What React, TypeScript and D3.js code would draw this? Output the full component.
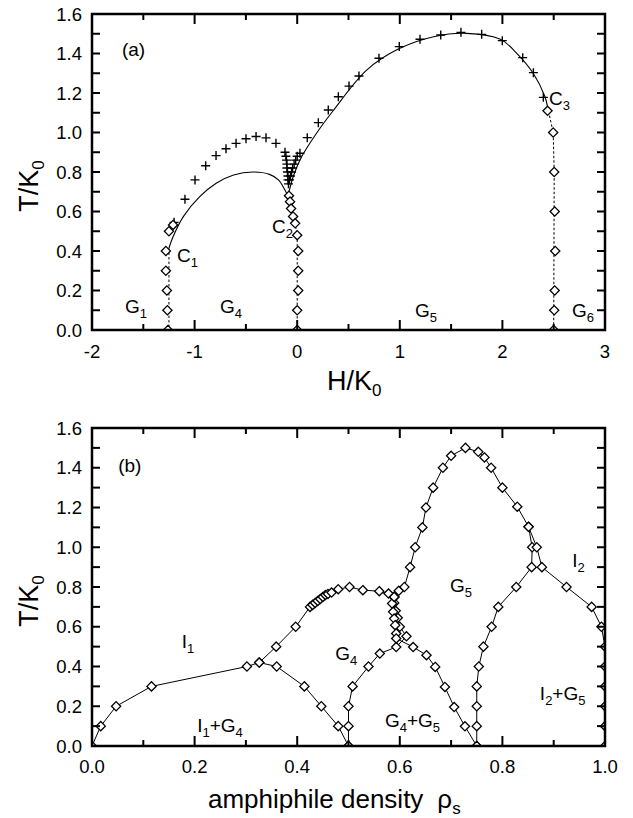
import React from 'react';
import * as d3 from 'd3';

// ---------- panel (a) data ----------
const hTickLabels = [-2, -1, 0, 1, 2, 3];
const tTickLabels = [0, 0.2, 0.4, 0.6, 0.8, 1.0, 1.2, 1.4, 1.6];

// solid transition lines
const leftArcH = [-1.25, -1.21, -1.11, -0.95, -0.79, -0.62, -0.43, -0.27, -0.18, -0.12, -0.09];
const leftArcT = [0.415, 0.472, 0.574, 0.675, 0.743, 0.785, 0.8, 0.788, 0.759, 0.709, 0.68];
const rightArcH = [-0.09, -0.03, 0.043, 0.18, 0.35, 0.677, 1.0, 1.33, 1.65, 1.98, 2.14, 2.3, 2.415, 2.44];
const rightArcT = [0.68, 0.79, 0.877, 0.99, 1.11, 1.316, 1.426, 1.485, 1.502, 1.472, 1.401, 1.3, 1.181, 1.13];

// dashed first-order lines
const dashC1H = [-1.25, -1.25];
const dashC1T = [0.415, 0.0];
const dashC2H = [-0.09, -0.06, -0.02, 0.0, 0.0];
const dashC2T = [0.68, 0.61, 0.54, 0.48, 0.0];
const dashC3H = [2.44, 2.495, 2.505, 2.5];
const dashC3T = [1.13, 1.0, 0.8, 0.0];

// plus markers
const plusH = [
  -1.2, -1.094, -0.996, -0.892, -0.791, -0.694, -0.596, -0.499, -0.401, -0.304, -0.207, -0.119,
  -0.11, -0.105, -0.1, -0.1, -0.095, -0.09, -0.09, -0.085,
  0.0, -0.015, -0.03, -0.045, -0.055, -0.065, -0.075,
  0.027, 0.098, 0.206, 0.303, 0.401, 0.505, 0.602, 0.797, 0.995, 1.197, 1.399, 1.596, 1.798, 1.999, 2.198, 2.302, 2.399,
];
const plusT = [
  0.545, 0.662, 0.76, 0.832, 0.883, 0.918, 0.945, 0.968, 0.98, 0.973, 0.945, 0.9,
  0.88, 0.86, 0.84, 0.82, 0.8, 0.78, 0.76, 0.74,
  0.88, 0.86, 0.84, 0.82, 0.8, 0.78, 0.76,
  0.895, 0.974, 1.05, 1.114, 1.181, 1.235, 1.286, 1.376, 1.435, 1.472, 1.494, 1.507, 1.497, 1.465, 1.379, 1.303, 1.178,
];

// diamond markers in (a)
const diamAH = [
  -1.21, -1.25, -1.28, -1.28, -1.27, -1.265, -1.26,
  -0.08, -0.07, -0.06, -0.04, -0.02, 0.0, 0.01, 0.01, 0.01, 0.0, 0.0,
  2.44, 2.495, 2.505, 2.51, 2.515, 2.51, 2.505, 2.5,
];
const diamAT = [
  0.532, 0.5, 0.4, 0.3, 0.2, 0.1, 0.0,
  0.68, 0.65, 0.615, 0.575, 0.54, 0.48, 0.4, 0.3, 0.2, 0.1, 0.0,
  1.11, 1.0, 0.8, 0.6, 0.4, 0.2, 0.1, 0.0,
];

// region labels (a): [main, subscript, H, T]
const labelsA: [string, string, number, number][] = [
  ['(a)', '', -1.708, 1.387],
  ['C', '1', -1.172, 0.344],
  ['C', '2', -0.246, 0.491],
  ['C', '3', 2.454, 1.139],
  ['G', '1', -1.678, 0.086],
  ['G', '4', -0.752, 0.086],
  ['G', '5', 1.148, 0.066],
  ['G', '6', 2.678, 0.066],
];

// ---------- panel (b) data ----------
const rhoTickLabels = [0, 0.2, 0.4, 0.6, 0.8, 1.0];

// polylines with diamond markers: [rho, T]
const lineI1: [number, number][] = [
  [0, 0], [0.017, 0.1], [0.047, 0.2], [0.116, 0.3], [0.302, 0.4], [0.326, 0.42], [0.359, 0.5], [0.397, 0.6],
  [0.425, 0.7], [0.43, 0.71], [0.435, 0.72], [0.44, 0.73], [0.445, 0.74], [0.45, 0.75], [0.455, 0.76],
  [0.46, 0.765], [0.467, 0.772], [0.48, 0.789], [0.502, 0.8], [0.528, 0.784], [0.56, 0.779], [0.578, 0.767], [0.589, 0.75],
];
const lineI1G4: [number, number][] = [
  [0.326, 0.42], [0.36, 0.4], [0.414, 0.3], [0.447, 0.2], [0.48, 0.1], [0.5, 0],
];
const lineG4: [number, number][] = [
  [0.5, 0], [0.5, 0.1], [0.5, 0.2], [0.508, 0.3], [0.539, 0.4], [0.561, 0.465], [0.593, 0.498], [0.613, 0.552],
  [0.6, 0.6], [0.596, 0.645], [0.592, 0.68], [0.589, 0.72], [0.589, 0.75],
];
const lineG5left: [number, number][] = [
  [0.589, 0.75], [0.585, 0.717], [0.587, 0.675], [0.589, 0.641], [0.591, 0.608], [0.593, 0.566], [0.593, 0.541],
  [0.626, 0.498], [0.652, 0.457], [0.669, 0.398], [0.688, 0.297], [0.706, 0.196], [0.727, 0.099], [0.75, 0],
];
const lineG5dome: [number, number][] = [
  [0.589, 0.75], [0.598, 0.781], [0.609, 0.8], [0.62, 0.9], [0.63, 1.0], [0.644, 1.1], [0.651, 1.2], [0.665, 1.3],
  [0.684, 1.4], [0.7, 1.46], [0.728, 1.5], [0.753, 1.48], [0.765, 1.452], [0.778, 1.4], [0.8, 1.3], [0.829, 1.204],
  [0.851, 1.103], [0.858, 1.0], [0.857, 0.9], [0.827, 0.8], [0.792, 0.7], [0.779, 0.6], [0.763, 0.5], [0.754, 0.4],
  [0.75, 0.3], [0.75, 0.2], [0.75, 0.1], [0.75, 0],
];
const lineI2: [number, number][] = [
  [0.851, 1.103], [0.867, 1.0], [0.877, 0.9], [0.925, 0.8], [0.974, 0.7], [0.993, 0.6], [1.0, 0.5], [1.0, 0.4],
  [1.0, 0.3], [1.0, 0.2], [1.0, 0.1], [1.0, 0],
];
const linesB = [lineI1, lineI1G4, lineG4, lineG5left, lineG5dome, lineI2];

// region labels (b): parts alternate main/sub, then rho, T
const labelsB: [string[], number, number][] = [
  [['(b)'], 0.051, 1.378],
  [['I', '1'], 0.175, 0.492],
  [['I', '1', '+G', '4'], 0.205, 0.069],
  [['G', '4'], 0.474, 0.432],
  [['G', '4', '+G', '5'], 0.571, 0.094],
  [['G', '5'], 0.698, 0.774],
  [['I', '2'], 0.936, 0.9],
  [['I', '2', '+G', '5'], 0.873, 0.23],
];

// ---------- layout ----------
const FONT = '"Liberation Sans", Arial, Helvetica, sans-serif';
const boxA = { x0: 92, x1: 605, y0: 14, y1: 330 };
const boxB = { x0: 92, x1: 605, y0: 428, y1: 746 };

const diamondPath = (s: number) => `M0,${-s}L${s},0L0,${s}L${-s},0Z`;
const plusPath = (s: number) => `M${-s},0H${s}M0,${-s}V${s}`;

function Frame({ box, xTicks, yTicks, x, y, xMajor }: any) {
  const els: any[] = [];
  xTicks.forEach((v: number, i: number) => {
    const px = x(v);
    const len = xMajor(v) ? 10 : 6;
    els.push(<line key={'xb' + i} x1={px} x2={px} y1={box.y1} y2={box.y1 - len} />);
    els.push(<line key={'xt' + i} x1={px} x2={px} y1={box.y0} y2={box.y0 + len} />);
  });
  yTicks.forEach((v: number, i: number) => {
    const py = y(v);
    els.push(<line key={'yl' + i} x1={box.x0} x2={box.x0 + 8} y1={py} y2={py} />);
    els.push(<line key={'yr' + i} x1={box.x1} x2={box.x1 - 8} y1={py} y2={py} />);
  });
  return (
    <g stroke="#000" strokeWidth={2} fill="none">
      {els}
      <rect x={box.x0} y={box.y0} width={box.x1 - box.x0} height={box.y1 - box.y0} strokeWidth={2.5} />
    </g>
  );
}

export default function App() {
  const xA = d3.scaleLinear().domain([-2, 3]).range([boxA.x0, boxA.x1]);
  const yA = d3.scaleLinear().domain([0, 1.6]).range([boxA.y1, boxA.y0]);
  const xB = d3.scaleLinear().domain([0, 1]).range([boxB.x0, boxB.x1]);
  const yB = d3.scaleLinear().domain([0, 1.6]).range([boxB.y1, boxB.y0]);

  const mkLine = (hs: number[], ts: number[], curve: any) =>
    d3.line<[number, number]>().x(d => xA(d[0])).y(d => yA(d[1])).curve(curve)(hs.map((h, i) => [h, ts[i]]))!;
  const lineB = d3.line<[number, number]>().x(d => xB(d[0])).y(d => yB(d[1]));

  const xTicksA = d3.range(-2, 3.0001, 0.5);
  const yTicks = d3.range(0, 1.6001, 0.1);
  const xTicksB = d3.range(0, 1.0001, 0.1);

  const tickFont = 18.5;
  const fmt = d3.format('.1f');

  const renderLabel = (parts: string[], px: number, py: number, key: string) => (
    <text key={key} x={px} y={py} fontSize={19} fontFamily={FONT} fill="#000">
      {parts.map((p, i) =>
        i % 2 === 0 ? (
          <tspan key={i} dy={i === 0 ? 0 : -5} fontSize={19}>{p}</tspan>
        ) : (
          <tspan key={i} dy={5} fontSize={13}>{p}</tspan>
        )
      )}
    </text>
  );

  return (
    <svg width={633} height={818} style={{ position: 'absolute', left: 0, top: 0, background: '#fff' }}>
      <defs>
        <clipPath id="clipA"><rect x={boxA.x0} y={boxA.y0} width={boxA.x1 - boxA.x0} height={boxA.y1 - boxA.y0} /></clipPath>
        <clipPath id="clipB"><rect x={boxB.x0} y={boxB.y0} width={boxB.x1 - boxB.x0} height={boxB.y1 - boxB.y0} /></clipPath>
      </defs>

      {/* ---------- panel (a) ---------- */}
      <g clipPath="url(#clipA)">
        <path d={mkLine(leftArcH, leftArcT, d3.curveCatmullRom.alpha(0.5))} fill="none" stroke="#000" strokeWidth={1.1} />
        <path d={mkLine(rightArcH, rightArcT, d3.curveCatmullRom.alpha(0.5))} fill="none" stroke="#000" strokeWidth={1.1} />
        {[[dashC1H, dashC1T], [dashC2H, dashC2T], [dashC3H, dashC3T]].map((d, i) => (
          <path key={i} d={mkLine(d[0], d[1], d3.curveLinear)} fill="none" stroke="#000" strokeWidth={1} strokeDasharray="2.5,2" />
        ))}
        {plusH.map((h, i) => (
          <path key={'p' + i} transform={`translate(${xA(h)},${yA(plusT[i])})`} d={plusPath(4.5)} stroke="#000" strokeWidth={1.4} fill="none" />
        ))}
        {diamAH.map((h, i) => (
          <path key={'d' + i} transform={`translate(${xA(h)},${yA(diamAT[i])})`} d={diamondPath(4.6)} stroke="#000" strokeWidth={1.3} fill="#fff" />
        ))}
      </g>
      <Frame box={boxA} xTicks={xTicksA} yTicks={yTicks} x={xA} y={yA} xMajor={(v: number) => Math.abs(v - Math.round(v)) < 1e-6} />
      {hTickLabels.map(v => (
        <text key={'hx' + v} x={xA(v)} y={boxA.y1 + 28} textAnchor="middle" fontSize={tickFont} fontFamily={FONT}>{v}</text>
      ))}
      {tTickLabels.map(v => (
        <text key={'ty' + v} x={boxA.x0 - 10} y={yA(v) + 6.5} textAnchor="end" fontSize={tickFont} fontFamily={FONT}>{fmt(v)}</text>
      ))}
      {labelsA.map(([m, s, h, t], i) => renderLabel(s ? [m, s] : [m], xA(h), yA(t), 'la' + i))}
      <text x={327} y={390} fontSize={27} fontFamily={FONT}>
        H/K<tspan dy={6} fontSize={17}>0</tspan>
      </text>
      <text transform={`translate(38,${(boxA.y0 + boxA.y1) / 2 + 14}) rotate(-90)`} textAnchor="middle" fontSize={27} fontFamily={FONT}>
        T/K<tspan dy={6} fontSize={17}>0</tspan>
      </text>

      {/* ---------- panel (b) ---------- */}
      <g clipPath="url(#clipB)">
        {linesB.map((l, i) => (
          <path key={'lb' + i} d={lineB(l)!} fill="none" stroke="#000" strokeWidth={1} />
        ))}
        {linesB.map((l, i) =>
          l.map((p, j) => (
            <path key={`db${i}-${j}`} transform={`translate(${xB(p[0])},${yB(p[1])})`} d={diamondPath(4.6)} stroke="#000" strokeWidth={1.3} fill="#fff" />
          ))
        )}
      </g>
      <Frame box={boxB} xTicks={xTicksB} yTicks={yTicks} x={xB} y={yB} xMajor={(v: number) => Math.abs(v * 5 - Math.round(v * 5)) < 1e-6} />
      {rhoTickLabels.map(v => (
        <text key={'rx' + v} x={xB(v)} y={boxB.y1 + 27} textAnchor="middle" fontSize={tickFont} fontFamily={FONT}>{fmt(v)}</text>
      ))}
      {tTickLabels.map(v => (
        <text key={'tyb' + v} x={boxB.x0 - 10} y={yB(v) + 6.5} textAnchor="end" fontSize={tickFont} fontFamily={FONT}>{fmt(v)}</text>
      ))}
      {labelsB.map(([parts, r, t], i) => renderLabel(parts, xB(r), yB(t), 'lb' + i))}
      <text x={208} y={808} fontSize={26} fontFamily={FONT}>
        amphiphile density<tspan dx={14}>ρ</tspan><tspan dy={6} fontSize={17}>s</tspan>
      </text>
      <text transform={`translate(38,${(boxB.y0 + boxB.y1) / 2 + 14}) rotate(-90)`} textAnchor="middle" fontSize={27} fontFamily={FONT}>
        T/K<tspan dy={6} fontSize={17}>0</tspan>
      </text>
    </svg>
  );
}
